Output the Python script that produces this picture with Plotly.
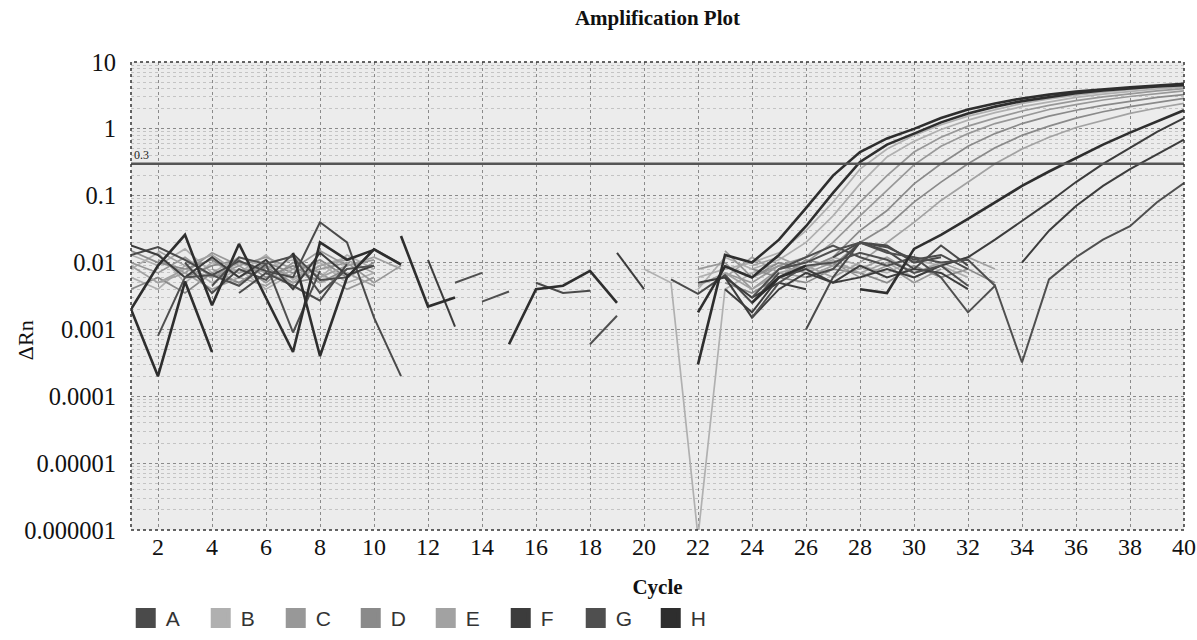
import math
import plotly.graph_objects as go

N = None
cycles = list(range(1, 41))
x_ticks = list(range(2, 41, 2))
y_tickvals = [10, 1, 0.1, 0.01, 0.001, 0.0001, 0.00001, 0.000001]
y_ticktext = ["10", "1", "0.1", "0.01", "0.001", "0.0001", "0.00001", "0.000001"]
threshold = 0.3
groups = ["A", "B", "C", "D", "E", "F", "G", "H"]

# ---- group A (dark) ----
A1 = [N, N, N, N, 0.0035, 0.007, 0.0045, 0.0027, 0.0095, N,
      N, N, N, N, N, N, N, N, N, N,
      0.0056, 0.0034, 0.0065, 0.0025, 0.007, N, 0.012, 0.02, 0.017, 0.011,
      0.013, 0.008, N, N, N, N, N, N, N, N]
A2 = [N, N, 0.01, 0.0035, 0.008, 0.0055, 0.0135, 0.0055, 0.006, 0.016,
      0.0095, N, N, N, N, 0.005, 0.0035, 0.0038, N, N,
      N, N, N, N, N, 0.006, 0.008, 0.02, 0.018, 0.01,
      0.012, N, N, N, N, N, N, N, N, N]
A3 = [0.013, 0.017, 0.011, 0.0065, 0.0105, 0.0075, 0.006, 0.04, 0.02, 0.0015,
      0.0002, N, N, N, N, N, N, N, N, N,
      N, N, N, N, N, 0.001, 0.006, 0.02, 0.015, 0.008,
      0.018, 0.009, N, N, N, N, N, N, N, N]
# ---- group B (light) ----
B1 = [0.013, 0.009, 0.016, 0.007, 0.012, 0.0085, 0.011, 0.006, 0.013, 0.008,
      N, N, N, N, N, N, N, N, N, N,
      N, 0.006, 0.008, 0.01, 0.014, 0.03, 0.08, 0.25, 0.5, 0.8,
      1.15, 1.55, 1.95, 2.4, 2.8, 3.2, 3.55, 3.9, 4.2, 4.5]
B2 = [0.008, 0.014, 0.005, 0.01, 0.007, 0.013, 0.0055, 0.009, 0.012, N,
      N, N, N, N, N, N, N, N, N, N,
      N, 0.004, 0.012, 0.008, 0.011, 0.02, 0.05, 0.15, 0.38, 0.65,
      0.98, 1.35, 1.75, 2.15, 2.55, 2.95, 3.3, 3.65, 3.95, 4.25]
B3 = [0.006, 0.004, 0.009, 0.005, 0.008, 0.004, 0.007, 0.01, 0.005, 0.007,
      N, N, N, N, N, N, N, N, N, 0.008,
      0.005, 0.0000008, 0.004, 0.007, 0.01, 0.008, 0.012, 0.009, 0.007, 0.011,
      0.009, 0.006, N, N, N, N, N, N, N, N]
# ---- group C (light) ----
C1 = [N, 0.011, 0.007, 0.014, 0.009, 0.012, 0.008, 0.015, 0.009, 0.011,
      N, N, N, N, N, N, N, N, N, N,
      N, N, 0.007, 0.005, 0.009, 0.012, 0.03, 0.08, 0.2, 0.45,
      0.75, 1.1, 1.45, 1.85, 2.25, 2.65, 3.0, 3.35, 3.7, 4.0]
C2 = [0.01, 0.007, 0.012, 0.006, 0.009, 0.005, 0.01, 0.007, 0.004, 0.006,
      N, N, N, N, N, N, N, N, N, N,
      N, 0.008, 0.01, 0.004, 0.008, 0.01, 0.02, 0.05, 0.12, 0.29,
      0.55, 0.85, 1.2, 1.55, 1.95, 2.3, 2.7, 3.05, 3.35, 3.7]
C3 = [N, N, N, 0.008, 0.005, 0.009, 0.006, 0.008, 0.01, 0.005,
      0.009, N, N, N, N, N, N, N, N, N,
      N, N, 0.015, 0.006, 0.009, 0.007, 0.01, 0.006, 0.009, 0.005,
      0.008, N, N, N, N, N, N, N, N, N]
# ---- group D (light) ----
D1 = [0.015, 0.01, 0.008, 0.011, 0.006, 0.01, 0.007, 0.011, 0.006, 0.01,
      N, N, N, N, N, N, N, N, N, N,
      N, N, 0.009, 0.006, 0.01, 0.008, 0.012, 0.03, 0.06, 0.15,
      0.3, 0.55, 0.85, 1.2, 1.55, 1.9, 2.25, 2.6, 2.95, 3.25]
D2 = [N, N, 0.006, 0.009, 0.011, 0.006, 0.009, 0.005, 0.008, N,
      N, N, N, N, N, N, N, N, N, N,
      N, N, N, 0.008, 0.006, 0.011, 0.009, 0.02, 0.035, 0.08,
      0.16, 0.3, 0.52, 0.8, 1.1, 1.45, 1.8, 2.15, 2.5, 2.85]
D3 = [0.004, 0.006, 0.0035, 0.007, 0.005, 0.0085, 0.005, 0.006, N, N,
      N, N, N, N, N, N, N, N, N, N,
      N, N, 0.005, 0.0035, 0.006, 0.005, 0.008, 0.007, 0.005, 0.009,
      0.006, 0.008, 0.005, N, N, N, N, N, N, N]
# ---- group E (light) ----
E1 = [N, 0.005, 0.008, 0.006, 0.01, 0.007, 0.005, 0.009, 0.011, 0.007,
      N, N, N, N, N, N, N, N, N, N,
      N, N, 0.006, 0.012, 0.007, 0.009, 0.006, 0.01, 0.02, 0.04,
      0.085, 0.16, 0.3, 0.5, 0.75, 1.05, 1.35, 1.7, 2.05, 2.4]
E2 = [0.009, 0.005, 0.007, 0.004, 0.006, 0.0045, 0.008, 0.005, 0.007, 0.0045,
      N, N, N, N, N, N, N, N, N, N,
      N, 0.0045, 0.007, 0.004, 0.007, 0.006, 0.009, 0.008, 0.012, 0.007,
      0.01, 0.007, N, N, N, N, N, N, N, N]
E3 = [N, 0.015, 0.009, 0.013, 0.007, 0.01, 0.012, 0.006, 0.009, 0.012,
      0.008, N, N, N, N, N, N, N, N, N,
      N, N, N, 0.009, 0.012, 0.008, 0.011, 0.007, 0.01, 0.006,
      0.009, 0.012, 0.008, N, N, N, N, N, N, N]
# ---- group F (dark) ----
F1 = [N, N, N, N, N, N, N, N, N, N,
      N, 0.011, 0.0011, N, N, N, N, N, N, N,
      N, N, 0.006, 0.0015, 0.004, 0.007, 0.005, 0.006, 0.008, 0.006,
      0.009, 0.012, 0.022, 0.042, 0.08, 0.16, 0.3, 0.52, 0.9, 1.45]
F2 = [N, N, N, N, N, N, N, N, N, N,
      N, N, N, N, N, N, N, N, 0.014, 0.004,
      N, 0.005, 0.006, 0.003, 0.005, 0.004, N, N, N, N,
      N, N, N, 0.01, 0.03, 0.07, 0.14, 0.25, 0.42, 0.69]
F3 = [0.018, 0.013, 0.006, 0.012, 0.006, 0.011, 0.004, 0.014, 0.0065, 0.009,
      N, N, N, N, N, N, N, N, N, N,
      N, N, 0.004, 0.0018, 0.006, 0.008, 0.005, 0.009, 0.006, 0.008,
      0.007, 0.004, N, N, N, N, N, N, N, N]
# ---- group G (dark) ----
G1 = [N, N, N, N, N, N, N, N, N, N,
      N, N, 0.005, 0.007, N, N, N, N, N, N,
      N, N, N, N, 0.008, 0.01, 0.015, 0.02, 0.014, 0.012,
      0.006, 0.0018, 0.0045, 0.00032, 0.0056, 0.012, 0.022, 0.035, 0.08, 0.155]
G2 = [N, 0.0008, 0.006, 0.0065, 0.0045, 0.0095, 0.0009, 0.0075, N, N,
      N, N, N, 0.0026, 0.0037, N, N, 0.0006, 0.0016, N,
      N, N, N, 0.0015, 0.005, 0.009, 0.01, 0.014, 0.011, 0.007,
      0.009, 0.0045, N, N, N, N, N, N, N, N]
G3 = [N, N, N, 0.0045, 0.012, 0.0095, 0.0125, 0.0035, 0.008, 0.009,
      N, N, N, N, N, N, N, N, N, N,
      N, N, N, 0.003, 0.008, 0.012, 0.018, 0.012, 0.009, 0.012,
      0.01, 0.011, 0.0045, N, N, N, N, N, N, N]
# ---- group H (darkest) ----
H1 = [0.002, 0.0002, 0.0052, 0.00046, N, N, N, N, N, N,
      0.025, 0.0022, 0.003, N, N, N, N, N, N, N,
      N, 0.0003, 0.013, 0.01, 0.022, 0.065, 0.2, 0.45, 0.72, 1.0,
      1.45, 1.95, 2.4, 2.85, 3.25, 3.6, 3.9, 4.2, 4.45, 4.7]
H2 = [0.002, 0.009, 0.026, 0.0023, 0.019, 0.003, 0.00046, 0.02, 0.011, 0.0155,
      N, N, N, N, 0.0006, 0.004, 0.0045, 0.0075, 0.0025, N,
      N, 0.0018, 0.0088, 0.006, 0.013, 0.035, 0.11, 0.32, 0.58, 0.85,
      1.25, 1.7, 2.15, 2.6, 3.0, 3.4, 3.75, 4.05, 4.3, 4.5]
H3 = [N, N, N, N, N, N, 0.014, 0.0004, 0.006, 0.0157,
      0.0093, N, N, N, N, N, N, N, N, N,
      N, N, N, 0.0025, 0.006, 0.009, N, 0.004, 0.0035, 0.016,
      0.026, 0.045, 0.08, 0.14, 0.23, 0.37, 0.58, 0.88, 1.3, 1.9]

series = {
    "B": [B1, B2, B3], "C": [C1, C2, C3], "D": [D1, D2, D3], "E": [E1, E2, E3],
    "A": [A1, A2, A3], "F": [F1, F2, F3], "G": [G1, G2, G3], "H": [H1, H2, H3],
}
colors = {"A": "#4a4a4a", "B": "#b0b0b0", "C": "#989898", "D": "#8a8a8a",
          "E": "#a2a2a2", "F": "#3c3c3c", "G": "#4f4f4f", "H": "#2e2e2e"}
widths = {"A": 2, "B": 1.7, "C": 1.7, "D": 1.7, "E": 1.7, "F": 2, "G": 2, "H": 2.6}

fig = go.Figure()
draw_order = ["B", "C", "D", "E", "A", "F", "G", "H"]
for g in draw_order:
    for ys in series[g]:
        fig.add_trace(go.Scatter(x=cycles, y=ys, mode="lines", legendgroup=g,
                                 showlegend=False, connectgaps=False,
                                 line=dict(color=colors[g], width=widths[g])))

# threshold line
fig.add_trace(go.Scatter(x=[cycles[0], cycles[-1]], y=[threshold, threshold],
                         mode="lines", showlegend=False,
                         line=dict(color="#555555", width=2.5)))

# legend swatches
for g in groups:
    fig.add_trace(go.Scatter(x=[None], y=[None], mode="markers", name=g, legendgroup=g,
                             marker=dict(symbol="square", size=16, color=colors[g],
                                         line=dict(color=colors[g], width=4))))

fig.add_annotation(x=cycles[0], y=math.log10(threshold), xref="x", yref="y",
                   text=str(threshold), showarrow=False, xanchor="left", yanchor="bottom",
                   xshift=1, yshift=0,
                   font=dict(family="Liberation Serif", size=12, color="#222"))

fig.add_annotation(x=-0.1, y=0.405, xref="paper", yref="paper", text="ΔRn",
                   textangle=-90, showarrow=False, xanchor="center", yanchor="middle",
                   font=dict(family="Liberation Serif", size=22, color="#111"))

fig.add_shape(type="rect", xref="paper", yref="paper", x0=0, y0=0, x1=1, y1=1,
              line=dict(color="#333", width=1.5, dash="dot"))

fig.update_layout(
    width=1197, height=640,
    margin=dict(l=131, r=13, t=62, b=110, autoexpand=False),
    paper_bgcolor="white", plot_bgcolor="#ececec",
    title=dict(text="<b>Amplification Plot</b>", x=0.5, xref="paper", xanchor="center",
               y=0.972, yref="container", yanchor="middle",
               font=dict(family="Liberation Serif", size=21, color="#111")),
    xaxis=dict(range=[1, 40], tickvals=x_ticks, showgrid=True, gridcolor="#8a8a8a",
               griddash="dot", gridwidth=1, zeroline=False, showline=False, ticks="",
               automargin=False,
               tickfont=dict(family="Liberation Serif", size=24, color="#111"),
               title=dict(text="<b>Cycle</b>", standoff=20,
                          font=dict(family="Liberation Serif", size=21, color="#111"))),
    yaxis=dict(type="log", range=[-6, 1], tickvals=y_tickvals, ticktext=y_ticktext,
               showgrid=True, gridcolor="#8a8a8a", griddash="dot", gridwidth=1,
               zeroline=False, showline=False, ticks="", automargin=False,
               ticklabelstandoff=14,
               minor=dict(dtick="D1", showgrid=True, gridcolor="#c4c4c4", griddash="dot"),
               tickfont=dict(family="Liberation Serif", size=24.5, color="#111")),
    legend=dict(orientation="h", x=-0.005, xanchor="left", y=-0.145, yanchor="top",
                entrywidth=30, entrywidthmode="pixels", itemwidth=30,
                font=dict(family="Liberation Sans", size=21, color="#333"),
                bgcolor="rgba(0,0,0,0)"),
)

fig.write_html("out.html")
